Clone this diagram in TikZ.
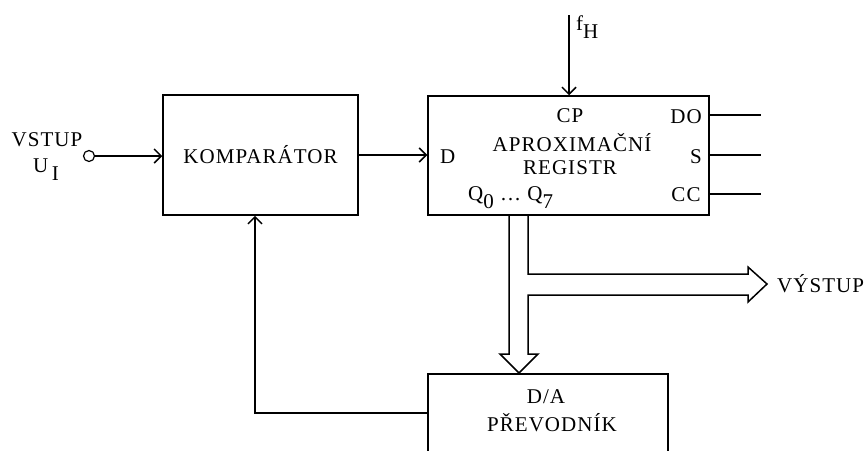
\documentclass[tikz,border=0pt]{standalone}
\usepackage{fontspec}
\setmainfont[LetterSpace=5]{Liberation Serif}
\usetikzlibrary{positioning,arrows.meta,calc}
\newcommand{\lowidx}[1]{\raisebox{-0.42em}{#1}}
\tikzset{
  every node/.style={font=\fontsize{21}{25}\selectfont, inner sep=0pt},
  block/.style={rectangle, draw, line width=1.5pt, inner sep=0pt},
  arrow/.style={-{Straight Barb[length=7pt,width=14pt]}, line width=1.5pt},
  wire/.style={line width=1.5pt},
  bus/.style={line width=1.5pt, line join=miter},
}

\begin{document}
\begin{tikzpicture}[x=1pt,y=-1pt]
  \useasboundingbox (0,0) rectangle (865,450);
  \clip (0,0) rectangle (865,450);
  % blocks
  \node[block, minimum width=195pt, minimum height=120pt] (komp) at (260.5,155) {KOMPARÁTOR};
  \node[block, minimum width=281pt, minimum height=119pt] (reg) at (568.5,155.5) {};
  \node[block, minimum width=240pt, minimum height=84pt] (da) at (548,416) {};
  % register pins
  \node (cp) at (570,116) {CP};
  \node (aprox) at (572,143) {APROXIMAČNÍ};
  \node (regis) at (570,168) {REGISTR};
  \node[anchor=west] (pd) at (440,157) {D};
  \node (pdo) at (686,117) {DO};
  \node (ps) at (696,157) {S};
  \node (pcc) at (686,195) {CC};
  \node[anchor=base west] (pq) at (468,200) {Q\lowidx{0} \dots\ Q\lowidx{7}};
  % D/A
  \node (dalbl) at (546,397) {D/A};
  \node (prevod) at (552,423) {PŘEVODNÍK};
  % input
  \node[circle, draw, line width=1.2pt, minimum size=11pt] (in) at (89,156) {};
  \node (vstup) at (47,140) {VSTUP};
  \node[anchor=base] (ui) at (46,172) {U\,\lowidx{I}};
  \draw[arrow] (in.east) -- (in.east -| komp.west);
  \draw[arrow] (komp.east) -- (komp.east -| reg.west);
  % clock
  \coordinate (fh) at (569,15);
  \draw[arrow] (fh) -- (fh |- reg.north);
  \node[anchor=base west] (fhl) at (576,30) {f\lowidx{H}};
  % outputs
  \coordinate (odo) at (761,115);
  \coordinate (os) at (761,155);
  \coordinate (occ) at (761,194);
  \draw[wire] (odo -| reg.east) -- (odo);
  \draw[wire] (os -| reg.east) -- (os);
  \draw[wire] (occ -| reg.east) -- (occ);
  % data bus
  \draw[bus] (509,215) -- (509,354) -- (500,354) -- (519,373) -- (538,354) -- (528,354)
    -- (528,295) -- (748,295) -- (748,302) -- (767,284) -- (748,267) -- (748,274)
    -- (528,274) -- (528,215);
  \node[anchor=west] (vystup) at (777,284) {VÝSTUP};
  % feedback
  \coordinate (fb) at (255,413);
  \draw[arrow] (fb -| da.west) -- (fb) -- (fb |- komp.south);
\end{tikzpicture}
\end{document}
